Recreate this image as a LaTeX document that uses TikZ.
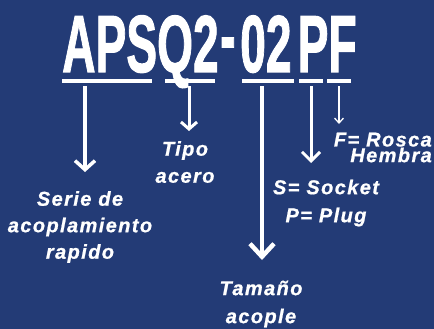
\documentclass[tikz,border=0pt]{standalone}
\usepackage{fontspec}
\usetikzlibrary{arrows.meta}
\newfontfamily\titlefont[FakeBold=1.5]{Liberation Sans Bold}
\newfontfamily\labelfont[LetterSpace=7,FakeBold=0.8]{Liberation Sans}
\definecolor{bg}{RGB}{35,59,118}
\begin{document}
\begin{tikzpicture}[x=1pt,y=-1pt,
  bar/.style={fill=white,draw=none,inner sep=0pt,minimum height=4pt},
  lab/.style={text=white,inner sep=0pt,align=center,anchor=north,
    font=\labelfont\bfseries\itshape\fontsize{20}{#1}\selectfont},
  lab/.default={26.5},
  ttl/.style={text=white,inner sep=0pt,anchor=base west,
    font=\titlefont\fontsize{81}{81}\selectfont},
  arr/.style n args={3}{draw=white,line width=#1,shorten <=3pt,
    -{Straight Barb[length=#3,width=#2]}}
]
\useasboundingbox (0,0) rectangle (434,329);
\fill[bg] (0,0) rectangle (434,329);

% title
\node[ttl] (t1) at (62,72) {\scalebox{0.57}[1]{APSQ2}};
\node[ttl] (t2) at (220,63.5) {\scalebox{0.57}[1]{-}};
\node[ttl] (t3) at (240,72) {\scalebox{0.57}[1]{02}};
\node[ttl] (t4) at (297.5,72) {\scalebox{0.57}[1]{PF}};

% bars
\node[bar,minimum width=90pt] (b1) at (107,81) {};
\node[bar,minimum width=50pt] (b2) at (190,81) {};
\node[bar,minimum width=52pt] (b3) at (268,81) {};
\node[bar,minimum width=24pt] (b4) at (311,81) {};
\node[bar,minimum width=24pt] (b5) at (339,81) {};

% arrow tips
\coordinate (a1) at (85,172);
\coordinate (a2) at (189,131);
\coordinate (a3) at (262,260);
\coordinate (a4) at (311,163);
\coordinate (a5) at (339,124);

\draw[arr={3.5pt}{20pt}{9pt}] (b1.south -| a1) -- (a1);
\draw[arr={3pt}{16pt}{7pt}] (b2.south -| a2) -- (a2);
\draw[arr={4.5pt}{24pt}{13pt}] (b3.south -| a3) -- (a3);
\draw[arr={3pt}{18pt}{9pt}] (b4.south -| a4) -- (a4);
\draw[arr={1.3pt}{9pt}{5pt}] (b5.south -| a5) -- (a5);

% labels
\node[lab] (l1) at (80,191) {Serie de\\acoplamiento\\rapido};
\node[lab=27] (l2) at (185,141) {Tipo\\acero};
\node[lab=28] (l3) at (261,280.5) {Tamaño\\acople};
\node[lab=28] (l4) at (326,179.5) {S= Socket\\P= Plug};
\node[lab=14,align=right,anchor=north east] (l5) at (432,132.5) {F= Rosca\\Hembra};
\end{tikzpicture}
\end{document}
